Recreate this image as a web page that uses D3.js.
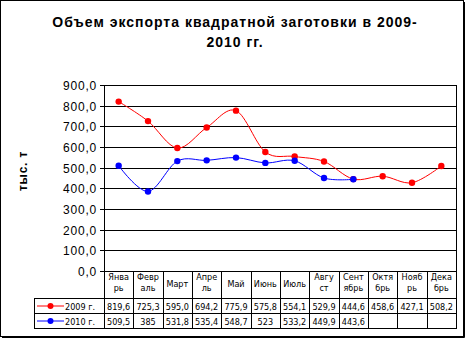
<!DOCTYPE html>
<html>
<head>
<meta charset="utf-8">
<script src="https://cdn.jsdelivr.net/npm/d3@7"></script>
<style>
    body { margin: 0; background: #fff; }
    svg { display: block; }
    .tick-lbl { font-family: "Liberation Sans", Arial, sans-serif; font-size: 12px; letter-spacing: 0.8px; }
    .tbl { font-family: "DejaVu Sans Condensed", "DejaVu Sans", sans-serif; font-size: 9px; }
</style>
</head>
<body>
<div id="chart"></div>
<script>
/*global d3 */
"use strict";

var months = ["Январь", "Февраль", "Март", "Апрель", "Май", "Июнь",
              "Июль", "Август", "Сентябрь", "Октябрь", "Ноябрь", "Декабрь"];
var seriesNames = ["2009 г.", "2010 г."];
var values2009 = [819.6, 725.3, 595.0, 694.2, 775.9, 575.8, 554.1, 529.9, 444.6, 458.6, 427.1, 508.2];
var values2010 = [509.5, 385, 531.8, 535.4, 548.7, 523, 533.2, 449.9, 443.6, null, null, null];
var labels2009 = ["819,6", "725,3", "595,0", "694,2", "775,9", "575,8", "554,1", "529,9", "444,6", "458,6", "427,1", "508,2"];
var labels2010 = ["509,5", "385", "531,8", "535,4", "548,7", "523", "533,2", "449,9", "443,6", "", "", ""];
var yTicks = [0, 100, 200, 300, 400, 500, 600, 700, 800, 900];
var colors = ["#ff0000", "#0000ff"];

(function () {
    var W = 466, H = 339,
        plot = {left: 104, right: 456, top: 85, bottom: 271},
        rowTop = [298, 313], rowH = 15, legendLeft = 34,
        titleFont = "bold 14px 'Liberation Sans', Arial, sans-serif",
        svg, x, y, line, series, fmt;

    svg = d3.select("#chart").append("svg")
        .attr("width", W).attr("height", H);

    // frame with a thin shadow on right/bottom
    svg.append("rect")
        .attr("x", 0.5).attr("y", 0.5)
        .attr("width", 463).attr("height", 336)
        .attr("fill", "#fff").attr("stroke", "#000");
    svg.append("path")
        .attr("d", "M464.5,2V337.5H2")
        .attr("fill", "none").attr("stroke", "#000");

    // title
    svg.append("text")
        .attr("x", 235).attr("y", 27)
        .attr("text-anchor", "middle")
        .style("font", titleFont).style("letter-spacing", "1px")
        .text("Объем экспорта квадратной заготовки в 2009-");
    svg.append("text")
        .attr("x", 235).attr("y", 47)
        .attr("text-anchor", "middle")
        .style("font", titleFont).style("letter-spacing", "1px")
        .text("2010 гг.");

    x = d3.scaleBand().domain(months).range([plot.left, plot.right]);
    y = d3.scaleLinear().domain([0, 900]).range([plot.bottom, plot.top]);
    fmt = function (v) { return d3.format(".1f")(v).replace(".", ","); };

    // gridlines + ticks
    svg.append("g").selectAll("line")
        .data(yTicks)
        .join("line")
        .attr("x1", plot.left - 4).attr("x2", plot.right)
        .attr("y1", function (d) { return Math.round(y(d)) + 0.5; })
        .attr("y2", function (d) { return Math.round(y(d)) + 0.5; })
        .attr("stroke", "#000");
    svg.append("g").selectAll("text")
        .data(yTicks)
        .join("text")
        .attr("class", "tick-lbl")
        .attr("x", 97)
        .attr("y", function (d) { return Math.round(y(d)) + 5; })
        .attr("text-anchor", "end")
        .text(fmt);

    // plot right border
    svg.append("line")
        .attr("x1", plot.right + 0.5).attr("x2", plot.right + 0.5)
        .attr("y1", plot.top).attr("y2", rowTop[1] + rowH + 0.5)
        .attr("stroke", "#000");

    // y axis line (through the table)
    svg.append("line")
        .attr("x1", plot.left + 0.5).attr("x2", plot.left + 0.5)
        .attr("y1", plot.top).attr("y2", rowTop[1] + rowH + 0.5)
        .attr("stroke", "#000");

    // y axis title
    svg.append("text")
        .attr("transform", "translate(27,171) rotate(-90)")
        .attr("text-anchor", "middle")
        .style("font", "bold 12px 'Liberation Sans', Arial, sans-serif")
        .style("letter-spacing", "0.8px")
        .text("тыс. т");

    // data table grid
    svg.append("g").selectAll("line")
        .data(months.slice(1))
        .join("line")
        .attr("x1", function (d) { return Math.round(x(d)) + 0.5; })
        .attr("x2", function (d) { return Math.round(x(d)) + 0.5; })
        .attr("y1", plot.bottom).attr("y2", rowTop[1] + rowH + 0.5)
        .attr("stroke", "#000");
    svg.append("g").selectAll("line")
        .data([rowTop[0], rowTop[1], rowTop[1] + rowH])
        .join("line")
        .attr("x1", legendLeft).attr("x2", plot.right + 1)
        .attr("y1", function (d) { return d + 0.5; })
        .attr("y2", function (d) { return d + 0.5; })
        .attr("stroke", "#000");
    svg.append("line")
        .attr("x1", legendLeft + 0.5).attr("x2", legendLeft + 0.5)
        .attr("y1", rowTop[0]).attr("y2", rowTop[1] + rowH + 0.5)
        .attr("stroke", "#000");

    // month headers, wrapped after four letters
    svg.append("g").selectAll("text")
        .data(months)
        .join("text")
        .attr("class", "tbl")
        .attr("text-anchor", "middle")
        .attr("x", function (d) { return x(d) + x.bandwidth() / 2; })
        .attr("y", function (d) { return d.length > 4 ? 280 : 287; })
        .each(function (d) {
            var t = d3.select(this);
            if (d.length > 4) {
                t.append("tspan").text(d.slice(0, 4));
                t.append("tspan")
                    .attr("x", x(d) + x.bandwidth() / 2)
                    .attr("dy", 11)
                    .text(d.slice(4));
            } else {
                t.text(d);
            }
        });

    series = [
        {name: seriesNames[0], vals: values2009, labels: labels2009, color: colors[0]},
        {name: seriesNames[1], vals: values2010, labels: labels2010, color: colors[1]}
    ];

    line = d3.line()
        .defined(function (d) { return d.v !== null; })
        .curve(d3.curveCardinal.tension(0))
        .x(function (d) { return x(d.m) + x.bandwidth() / 2; })
        .y(function (d) { return y(d.v); });

    series.forEach(function (s, i) {
        var pts = months.map(function (m, j) { return {m: m, v: s.vals[j]}; }),
            g = svg.append("g"),
            cy = rowTop[i] + rowH / 2;
        g.append("path")
            .attr("d", line(pts))
            .attr("fill", "none")
            .attr("stroke", s.color)
            .attr("stroke-width", 1);
        g.selectAll("circle")
            .data(pts.filter(function (d) { return d.v !== null; }))
            .join("circle")
            .attr("cx", function (d) { return x(d.m) + x.bandwidth() / 2; })
            .attr("cy", function (d) { return y(d.v); })
            .attr("r", 3.2)
            .attr("fill", s.color);

        // table row
        g.append("line")
            .attr("x1", 37).attr("x2", 64)
            .attr("y1", cy + 0.5).attr("y2", cy + 0.5)
            .attr("stroke", s.color);
        g.append("circle")
            .attr("cx", 50.5).attr("cy", cy + 0.5).attr("r", 3)
            .attr("fill", s.color);
        g.append("text")
            .attr("class", "tbl")
            .attr("x", 65).attr("y", cy + 4)
            .text(s.name);
        g.selectAll("text.val")
            .data(s.labels)
            .join("text")
            .attr("class", "tbl val")
            .attr("text-anchor", "middle")
            .attr("x", function (d, j) { return x(months[j]) + x.bandwidth() / 2; })
            .attr("y", cy + 4)
            .text(function (d) { return d; });
    });
}());
</script>
</body>
</html>
